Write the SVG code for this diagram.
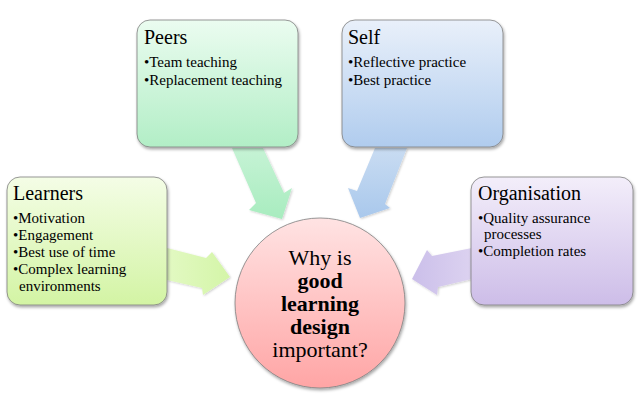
<svg xmlns="http://www.w3.org/2000/svg" width="640" height="409" viewBox="0 0 640 409">
<defs>
<linearGradient id="gL" x1="0" y1="0" x2="0" y2="1"><stop offset="0" stop-color="#f4fde6"/><stop offset="1" stop-color="#d3f4a4"/></linearGradient>
<linearGradient id="gP" x1="0" y1="0" x2="0" y2="1"><stop offset="0" stop-color="#ebfcf0"/><stop offset="1" stop-color="#b2eec6"/></linearGradient>
<linearGradient id="gS" x1="0" y1="0" x2="0" y2="1"><stop offset="0" stop-color="#e9f0fa"/><stop offset="1" stop-color="#b0ccee"/></linearGradient>
<linearGradient id="gO" x1="0" y1="0" x2="0" y2="1"><stop offset="0" stop-color="#f3eefa"/><stop offset="1" stop-color="#cdbde8"/></linearGradient>
<linearGradient id="gC" x1="0" y1="0" x2="0" y2="1"><stop offset="0" stop-color="#ffe3e3"/><stop offset="1" stop-color="#ffa5a5"/></linearGradient>
<linearGradient id="aP" x1="0" y1="0" x2="0" y2="1"><stop offset="0" stop-color="#c6f3d5"/><stop offset="1" stop-color="#a8ecbf"/></linearGradient>
<linearGradient id="aS" x1="0" y1="0" x2="0" y2="1"><stop offset="0" stop-color="#c9dcf2"/><stop offset="1" stop-color="#a9c8ec"/></linearGradient>
<linearGradient id="aL" x1="0" y1="0" x2="1" y2="0"><stop offset="0" stop-color="#e2f9c2"/><stop offset="1" stop-color="#d4f5a8"/></linearGradient>
<linearGradient id="aO" x1="1" y1="0" x2="0" y2="0"><stop offset="0" stop-color="#dcd2f0"/><stop offset="1" stop-color="#cbbfea"/></linearGradient>
<filter id="sh" x="-10%" y="-10%" width="125%" height="125%"><feDropShadow dx="1" dy="2" stdDeviation="1.5" flood-color="#000" flood-opacity="0.35"/></filter>
<filter id="ash" x="-10%" y="-10%" width="125%" height="125%"><feDropShadow dx="1" dy="1" stdDeviation="1.2" flood-color="#000" flood-opacity="0.2"/></filter>
</defs>
<style>
.box{stroke:#7f7f7f;stroke-width:0.8;filter:url(#sh)}
.t{font-family:"Liberation Serif","DejaVu Serif",serif;fill:#000}
.h{font-size:20px}
.b{font-size:15px}
.c{font-size:22px;text-anchor:middle}
.bold{font-weight:bold}
.arr{filter:url(#ash)}
</style>
<g id="connectors">
<polygon class="arr" fill="url(#aP)" points="232,148 263,148 284,193 292,188 282,219 249,210 256,203"/>
<polygon class="arr" fill="url(#aS)" points="375,148 407,148 385,204 390,208 360,218 348,188 357,191"/>
<polygon class="arr" fill="url(#aL)" points="167,248 206,258 212,252 230,277 203,295 202,288 167,280"/>
<polygon class="arr" fill="url(#aO)" points="472,248 432,256 427,250 412,279 437,295 438,287 472,279"/>
</g>
<g id="peers">
<rect class="box" x="137" y="20" width="161" height="127" rx="13" fill="url(#gP)"/>
<text class="t h" x="144" y="44">Peers</text>
<text class="t b" x="144" y="67">•Team teaching</text>
<text class="t b" x="144" y="85">•Replacement teaching</text>
</g>
<g id="self">
<rect class="box" x="342" y="20" width="161" height="127" rx="13" fill="url(#gS)"/>
<text class="t h" x="348" y="44">Self</text>
<text class="t b" x="348" y="67">•Reflective practice</text>
<text class="t b" x="348" y="85">•Best practice</text>
</g>
<g id="learners">
<rect class="box" x="7" y="177" width="160" height="128" rx="13" fill="url(#gL)"/>
<text class="t h" x="13" y="200">Learners</text>
<text class="t b" x="13" y="223">•Motivation</text>
<text class="t b" x="13" y="240">•Engagement</text>
<text class="t b" x="13" y="257">•Best use of time</text>
<text class="t b" x="13" y="274">•Complex learning</text>
<text class="t b" x="19" y="291">environments</text>
</g>
<g id="organisation">
<rect class="box" x="471" y="177" width="162" height="128" rx="13" fill="url(#gO)"/>
<text class="t h" x="478" y="200">Organisation</text>
<text class="t b" x="478" y="223">•Quality assurance</text>
<text class="t b" x="484" y="239">processes</text>
<text class="t b" x="478" y="256">•Completion rates</text>
</g>
<g id="center">
<circle cx="320" cy="303" r="85" fill="url(#gC)" stroke="#7f7f7f" stroke-width="0.8" filter="url(#sh)"/>
<text class="t c" x="320" y="265">Why is</text>
<text class="t c bold" x="320" y="288">good</text>
<text class="t c bold" x="320" y="311">learning</text>
<text class="t c bold" x="320" y="334">design</text>
<text class="t c" x="320" y="357">important?</text>
</g>
</svg>
